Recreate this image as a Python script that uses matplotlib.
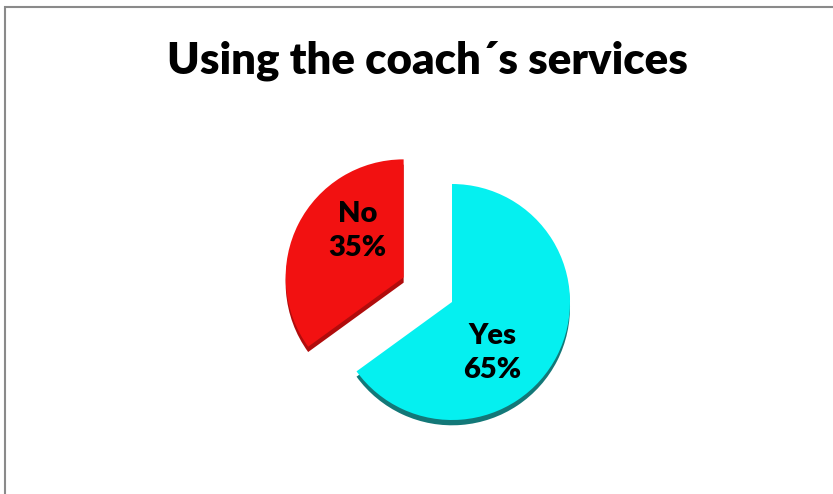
import matplotlib.pyplot as plt
from matplotlib.patches import Rectangle

labels = ["Yes", "No"]
shares = [65, 35]
colors = ["#05f0f0", "#f21111"]
side_colors = ["#137878", "#b00c0c"]
explode = [0.0, 0.46]

R_PX = 118.0
W, H = 833, 494
cx, cy = 452, 494 - 302

fig = plt.figure(figsize=(W / 100, H / 100), dpi=100)
ax = fig.add_axes([0, 0, 1, 1])
ax.axis("off")

# darker copy slightly lower gives the slices some thickness
ax.pie(shares, colors=side_colors, startangle=90, counterclock=False,
       explode=explode, center=(0, -0.045), radius=1.0,
       wedgeprops=dict(linewidth=0))
wedges, _ = ax.pie(shares, colors=colors, startangle=90, counterclock=False,
                   explode=explode, radius=1.0,
                   wedgeprops=dict(linewidth=0))
ax.set_xlim(-cx / R_PX, (W - cx) / R_PX)
ax.set_ylim(-cy / R_PX, (H - cy) / R_PX)

label_pos = {"Yes": (0.34, -0.43), "No": (-0.8, 0.6)}
for name, val in zip(labels, shares):
    x, y = label_pos[name]
    ax.text(x, y, f"{name}\n{val}%", ha="center", va="center",
            fontsize=21, fontweight="heavy", family="Lato",
            linespacing=1.4, color="black")

fig.text(427 / W, 1 - 61 / H, "Using the coach\u00b4s services",
         ha="center", va="center", fontsize=31.5, fontweight="heavy",
         family="Lato")

fig.patches.append(Rectangle((5 / W, -0.1), 1.2, 1.1 - 7 / H,
                             transform=fig.transFigure, fill=False,
                             edgecolor="#8a8a8a", linewidth=1.5))

fig.savefig("out.png", dpi=100, facecolor="white")
